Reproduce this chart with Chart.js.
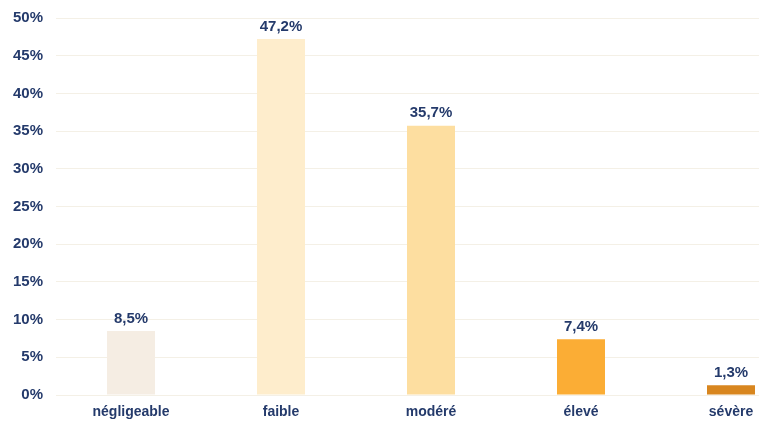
<!DOCTYPE html>
<html>
<head>
<meta charset="utf-8">
<script src="https://cdn.jsdelivr.net/npm/chart.js@4"></script>
<style>
  html, body { margin: 0; padding: 0; background: #fff; overflow: hidden; }
  #wrap { width: 810px; height: 423px; }
</style>
</head>
<body>
<div id="wrap"><canvas id="niveauChart" width="810" height="423"></canvas></div>
<script>
const categories = ['négligeable', 'faible', 'modéré', 'élevé', 'sévère'];
const shares = [8.5, 47.2, 35.7, 7.4, 1.3];
const barColors = ['#f5ede3', '#feedcc', '#fddea0', '#fbad35', '#d8861f'];
const yTicks = [0, 5, 10, 15, 20, 25, 30, 35, 40, 45, 50];

const navy = '#243a6b';
const fontFamily = '"Liberation Sans", Arial, sans-serif';
const fmt = v => v.toFixed(1).replace('.', ',') + '%';

// étiquettes de valeur au-dessus des barres
const valueLabels = {
    id: 'valueLabels',
    afterDatasetsDraw(chart) {
        const ctx = chart.ctx;
        const meta = chart.getDatasetMeta(0);
        ctx.save();
        ctx.font = 'bold 15px ' + fontFamily;
        ctx.fillStyle = navy;
        ctx.textAlign = 'center';
        ctx.textBaseline = 'bottom';
        meta.data.forEach((bar, i) => {
            ctx.fillText(fmt(shares[i]), bar.x, bar.y - 5);
        });
        ctx.restore();
    }
};

new Chart(document.getElementById('niveauChart').getContext('2d'), {
    type: 'bar',
    data: {
        labels: categories,
        datasets: [{
            data: shares,
            backgroundColor: barColors,
            categoryPercentage: 1,
            barPercentage: 0.32
        }]
    },
    options: {
        responsive: false,
        animation: false,
        layout: { padding: { top: 18, right: 4, left: 0, bottom: 0 } },
        plugins: { legend: { display: false }, tooltip: { enabled: false } },
        scales: {
            x: {
                grid: { display: false, drawTicks: false },
                border: { display: false },
                ticks: {
                    color: navy,
                    font: { family: fontFamily, size: 14, weight: 'bold' },
                    padding: 9,
                    maxRotation: 0
                },
                afterFit: s => { s.height = 28; }
            },
            y: {
                min: 0,
                max: 50,
                afterBuildTicks: s => { s.ticks = yTicks.map(v => ({ value: v })); },
                grid: { color: '#f4f0e6', drawTicks: false, lineWidth: 1 },
                border: { display: false },
                ticks: {
                    color: navy,
                    font: { family: fontFamily, size: 15, weight: 'bold' },
                    padding: 13,
                    callback: v => v + '%'
                },
                afterFit: s => { s.width = 56; s.paddingTop = 0; s.paddingBottom = 0; }
            }
        }
    },
    plugins: [valueLabels]
});
</script>
</body>
</html>
